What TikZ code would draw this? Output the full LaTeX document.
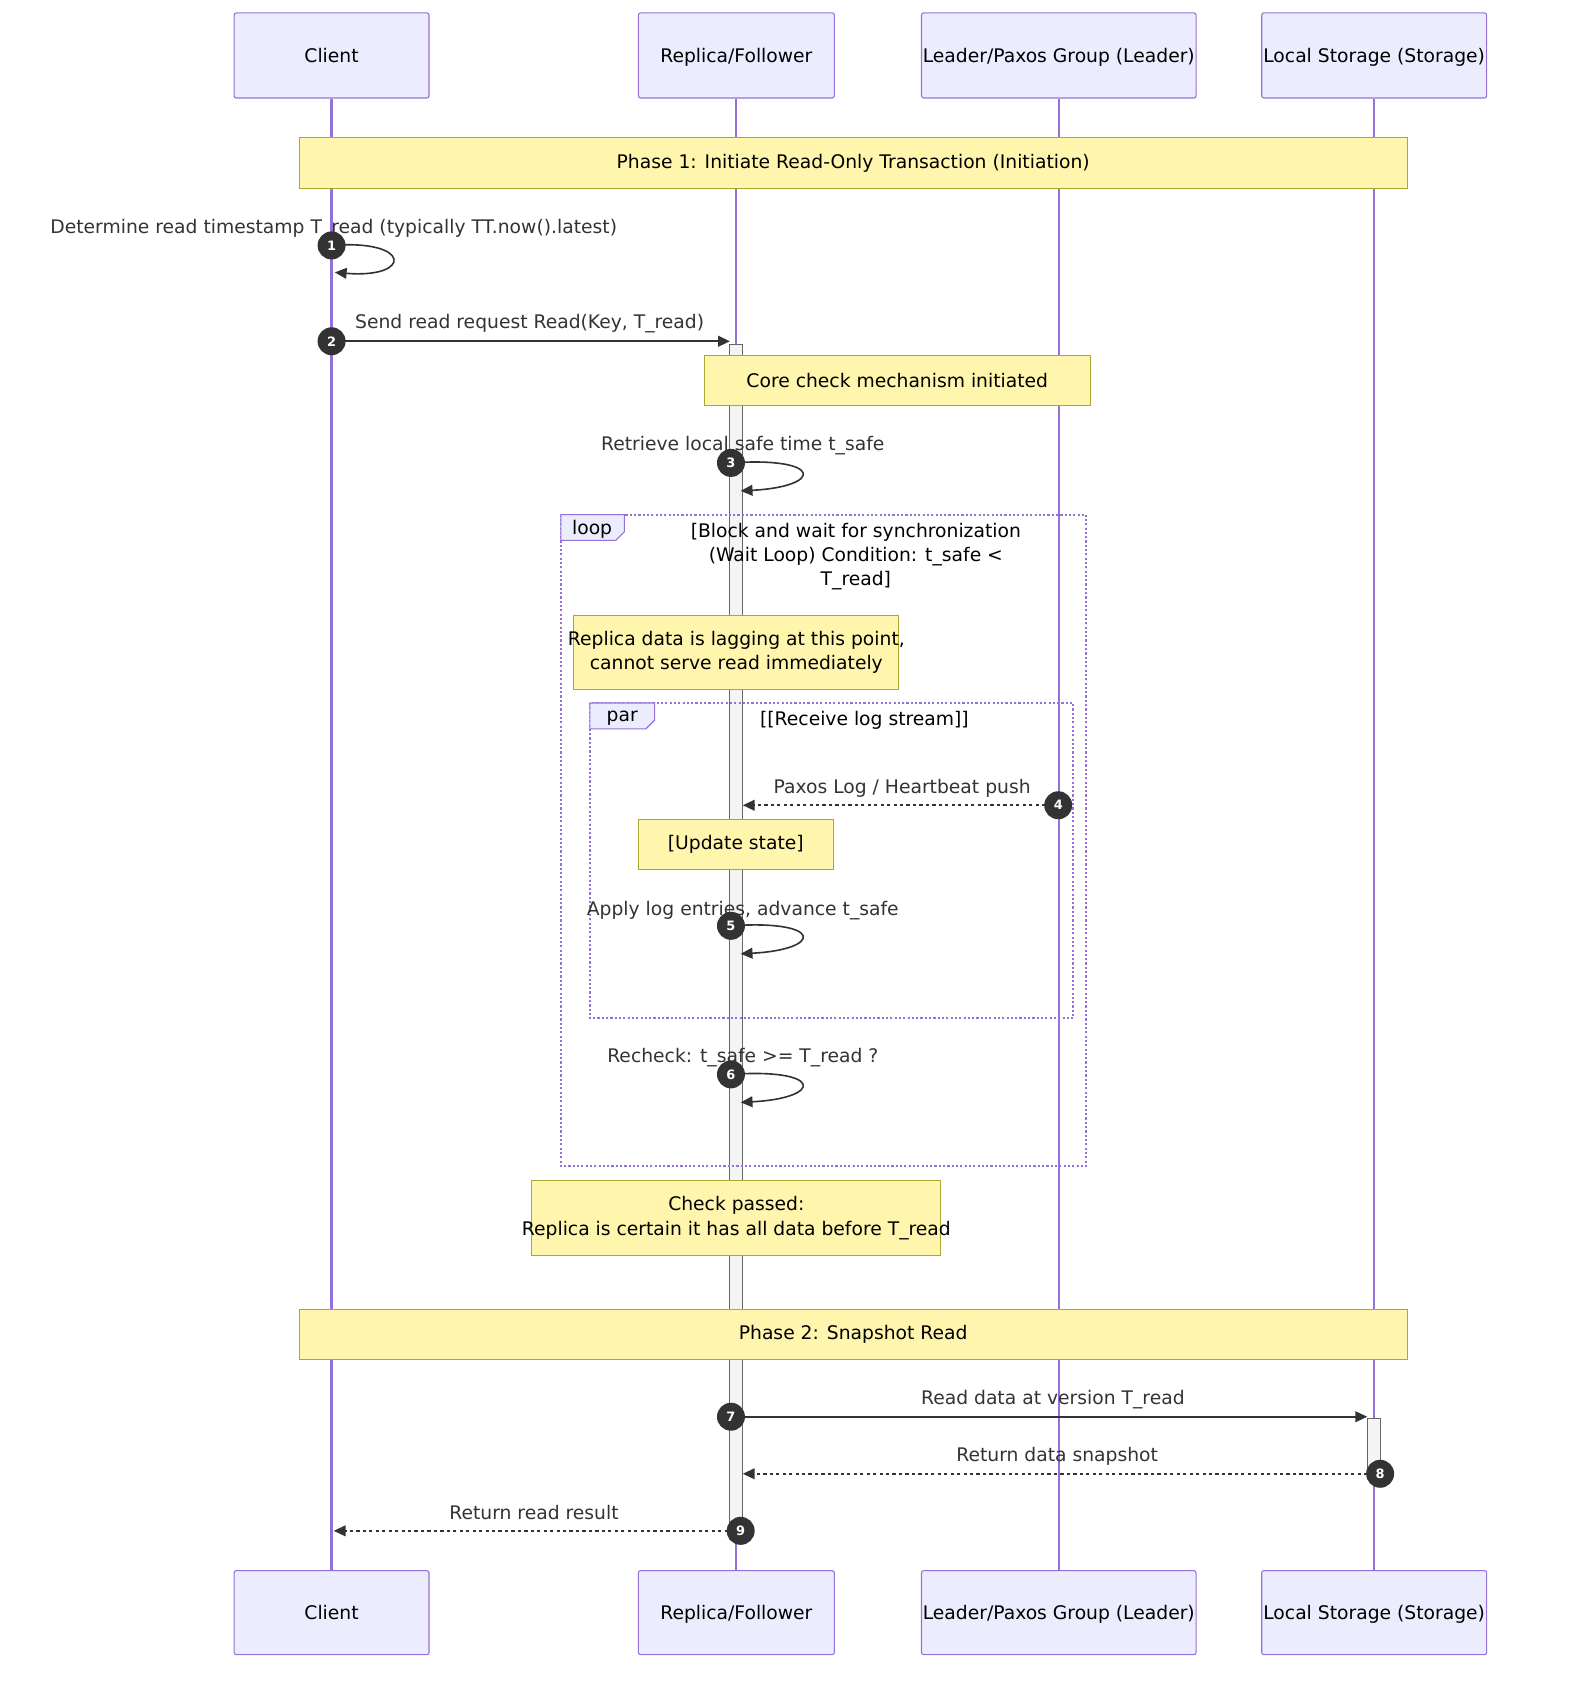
\documentclass[tikz,border=0pt]{standalone}
\usepackage{fontspec}
\setmainfont{DejaVu Sans}
\usetikzlibrary{arrows.meta}
\definecolor{actfill}{HTML}{ECECFF}
\definecolor{actline}{HTML}{9370DB}
\definecolor{notefill}{HTML}{FFF5AD}
\definecolor{noteline}{HTML}{AAAA33}
\definecolor{msgcol}{HTML}{333333}
\definecolor{barfill}{HTML}{F4F4F4}
\definecolor{barline}{HTML}{666666}
\tikzset{
  actor/.style={draw=actline,fill=actfill,line width=1pt,rounded corners=2pt,inner sep=0pt,text height=12.7pt,text depth=0pt},
  life/.style={draw=actline,line width=2pt},
  notebox/.style={draw=noteline,fill=notefill,line width=1pt,inner sep=0pt,align=center},
  msg/.style={draw=msgcol,line width=1.5pt,-{Triangle[length=11pt,width=10pt]}},
  reply/.style={msg,dash pattern=on 3pt off 3pt},
  seqno/.style={circle,fill=msgcol,text=white,minimum size=26pt,inner sep=0pt,font=\fontsize{12}{12}\selectfont\bfseries},
  lbl/.style={text=msgcol,text height=12.7pt,text depth=0pt,inner ysep=0pt},
  frame/.style={draw=actline,line width=2pt,dash pattern=on 2pt off 2pt},
  tab/.style={draw=actline,fill=actfill,line width=1pt},
  bar/.style={draw=barline,fill=barfill,line width=1pt}
}
\begin{document}
\begin{tikzpicture}[x=1pt,y=-1pt,font=\fontsize{17.4}{22.5}\selectfont]
  \useasboundingbox (0,0) rectangle (1457,1568);
  \foreach \n/\x/\w/\t in {cl/308/181/Client,rp/684/182/{Replica/Follower},
      ld/983.5/255/{Leader/Paxos Group (Leader)},st/1276.5/209/{Local Storage (Storage)}}{
    \node[actor,minimum width=\w pt,minimum height=79pt] (\n top) at (\x,51.5) {\t};
    \node[actor,minimum width=\w pt,minimum height=78pt] (\n bot) at (\x,1498) {\t};
    \draw[life] (\n top) -- (\n bot);}
  \draw[bar] (678,320) rectangle (690,1430);
  \draw[bar] (1270,1318) rectangle (1282,1372);

  \draw[frame] (521,478) rectangle (1009,1083);
  \draw[tab] (521,478) -- (580,478) -- (580,494) -- (572,502) -- (521,502) -- cycle;
  \node (looptag) at (550,492) {loop};
  \node[align=center] (loopcond) at (795,517) {[Block and wait for synchronization\\(Wait Loop) Condition: t\_safe <\\T\_read]};
  \draw[frame] (548,653) rectangle (997,946);
  \draw[tab] (548,653) -- (608,653) -- (608,669) -- (600,677) -- (548,677) -- cycle;
  \node (partag) at (578,667) {par};
  \node (parcond) at (803,669) {[[Receive log stream]]};

  \node[notebox,minimum width=1029pt,minimum height=47pt] (phase1) at (792.5,151.5) {Phase 1: Initiate Read-Only Transaction (Initiation)};
  \node[notebox,minimum width=359pt,minimum height=46pt] (core) at (833.5,353.5) {Core check mechanism initiated};
  \node[notebox,minimum width=302pt,minimum height=69pt,inner xsep=-6pt] (lag) at (684,606) {Replica data is lagging at this point,\\cannot serve read immediately};
  \node[notebox,minimum width=181pt,minimum height=46pt] (upd) at (683.5,784.5) {[Update state]};
  \node[notebox,minimum width=380pt,minimum height=70pt,inner xsep=-12pt] (passed) at (684,1131.5) {Check passed:\\Replica is certain it has all data before T\_read};
  \node[notebox,minimum width=1029pt,minimum height=47pt] (phase2) at (792.5,1239.5) {Phase 2: Snapshot Read};

  \node[lbl] (m1) at (310,211) {Determine read timestamp T\_read (typically TT.now().latest)};
  \node[lbl] (m2) at (492,299) {Send read request Read(Key, T\_read)};
  \node[lbl] (m3) at (690,412) {Retrieve local safe time t\_safe};
  \node[lbl] (m4) at (838,731) {Paxos Log / Heartbeat push};
  \node[lbl] (m5) at (690,844) {Apply log entries, advance t\_safe};
  \node[lbl] (m6) at (690,981) {Recheck: t\_safe >= T\_read ?};
  \node[lbl] (m7) at (978,1298) {Read data at version T\_read};
  \node[lbl] (m8) at (982,1351) {Return data snapshot};
  \node[lbl] (m9) at (496,1405) {Return read result};

  \foreach \i/\a/\b/\c/\d in {1/308/228/311/253,2/308/317/678/317,3/679/430/688/456,
      4/983/748/690/748,5/679/860/688/886,6/679/998/688/1024,7/679/1316/1270/1316,
      8/1282/1369/690/1369,9/688/1422/310/1422}{
    \coordinate (p\i) at (\a,\b);
    \coordinate (q\i) at (\c,\d);}
  \draw[msg] (p1) .. controls (383,222) and (383,259) .. (q1);
  \draw[msg] (p2) -- (q2);
  \foreach \i in {3,5,6}{
    \draw[msg] (p\i) .. controls ([xshift=86pt,yshift=6pt]p\i) and ([xshift=77pt,yshift=4pt]q\i) .. (q\i);}
  \draw[reply] (p4) -- (q4);
  \draw[msg] (p7) -- (q7);
  \draw[reply] (p8) -- (q8);
  \draw[reply] (p9) -- (q9);
  \foreach \i in {1,...,9}{\node[seqno] (n\i) at (p\i) {\i};}
\end{tikzpicture}
\end{document}
